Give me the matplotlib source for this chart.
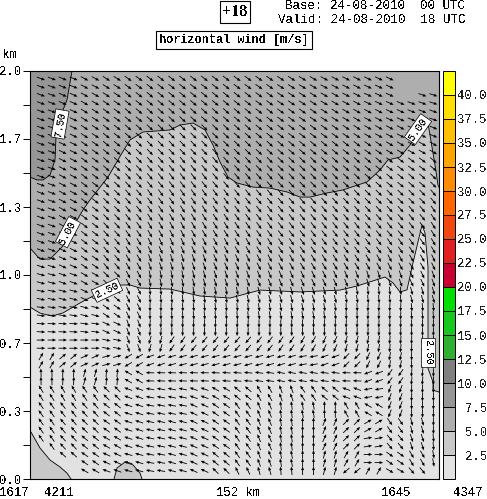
#%%
import matplotlib
matplotlib.use('Agg')
import matplotlib.pyplot as plt
import matplotlib as mpl
import numpy as np

plt.rcParams['font.family'] = ['Liberation Mono', 'DejaVu Sans Mono']
plt.rcParams['text.antialiased'] = False

#%% data: contour lines along the section (x = grid position, y = height in km)
line_75_x = [42, 37, 33, 26, 25, 20, 13, 7, 0]
line_75_h = [2.0, 1.858, 1.809, 1.676, 1.564, 1.490, 1.466, 1.466, 1.480]

line_50_x = [0, 10, 20, 32, 43, 53, 60, 78, 92, 100, 113, 140, 150, 163, 175, 183, 190, 198, 207,
             223, 240, 257, 270, 280, 297, 313, 337, 350, 358, 370, 380, 388, 397, 400, 405, 408, 409]
line_50_h = [1.132, 1.078, 1.078, 1.137, 1.235, 1.319, 1.368, 1.480, 1.598, 1.662, 1.701, 1.711, 1.735,
             1.745, 1.711, 1.637, 1.554, 1.480, 1.451, 1.431, 1.426, 1.407, 1.382, 1.382, 1.402, 1.417,
             1.456, 1.515, 1.564, 1.578, 1.637, 1.711, 1.770, 1.686, 1.539, 1.441, 1.43]

line_25_x = [0, 10, 22, 33, 50, 65, 90, 100, 110, 140, 170, 200, 230, 270, 310, 327, 343, 355, 363,
             370, 377, 383, 392, 395, 398, 398, 398, 395, 403, 403, 409]
line_25_h = [0.843, 0.813, 0.799, 0.814, 0.863, 0.902, 0.951, 0.951, 0.936, 0.931, 0.897, 0.887, 0.926,
             0.917, 0.926, 0.946, 0.971, 0.990, 0.961, 0.917, 0.927, 1.059, 1.245, 1.206, 1.039, 0.794,
             0.681, 0.583, 0.475, 0.436, 0.426]

corner_x = [1, 10, 20, 30, 37, 41]
corner_h = [0.230, 0.152, 0.093, 0.059, 0.029, 0.0]
hill_x = [84, 87, 95, 103, 110, 112]
hill_h = [0.0, 0.054, 0.083, 0.069, 0.029, 0.0]

# wind direction in degrees, one row per two arrow rows, top of the section first
wind_dir = [
    [-20, -22, -28, -32, -36, -38, -38, -38, -38, -36, -35, -33, -31, -28, -27, -25, -25, -20, -18],
    [-20, -24, -30, -34, -38, -40, -40, -40, -40, -38, -36, -34, -33, -30, -28, -25, -24, -20, -18],
    [-20, -25, -32, -36, -40, -42, -43, -42, -42, -40, -38, -36, -35, -32, -30, -28, -25, -22, -20],
    [-20, -26, -34, -38, -42, -44, -45, -45, -44, -43, -40, -38, -38, -36, -34, -30, -28, -24, -22],
    [-20, -26, -35, -40, -44, -46, -47, -47, -46, -45, -43, -41, -41, -40, -38, -35, -32, -30, -30],
    [-20, -26, -36, -42, -46, -48, -50, -50, -49, -48, -46, -44, -44, -43, -42, -40, -37, -36, -40],
    [-20, -28, -38, -44, -48, -50, -52, -52, -50, -50, -48, -47, -46, -46, -44, -42, -40, -42, -45],
    [-20, -28, -38, -45, -50, -54, -55, -55, -54, -52, -50, -49, -48, -48, -47, -45, -45, -46, -50],
    [-20, -28, -38, -46, -52, -56, -58, -58, -56, -54, -52, -50, -50, -50, -50, -48, -48, -50, -55],
    [-20, -28, -38, -48, -55, -60, -62, -60, -58, -56, -54, -52, -52, -52, -52, -50, -50, -52, -58],
    [-20, -26, -38, -50, -58, -65, -66, -64, -62, -60, -58, -56, -54, -54, -54, -53, -55, -55, -60],
    [-18, -24, -35, -50, -60, -70, -72, -70, -66, -65, -62, -60, -58, -58, -58, -60, -62, -60, -65],
    [-15, -20, -30, -45, -62, -78, -78, -75, -72, -70, -68, -66, -65, -65, -68, -72, -70, -65, -70],
    [-12, -15, -25, -40, -65, -85, -85, -82, -80, -78, -75, -74, -72, -75, -80, -85, -85, -75, -75],
    [-8, -10, -15, -35, -65, -90, -88, -85, -85, -85, -82, -80, -80, -82, -88, -92, -92, -85, -85],
    [-3, -3, -8, -25, -70, -95, -92, -92, -92, -92, -90, -90, -88, -90, -92, -92, -92, -90, -90],
    [0, 0, 0, -12, -70, -105, -125, -130, -130, -130, -128, -125, -120, -115, -105, -100, -95, -92, -90],
    [60, 40, 25, 15, -150, -160, -165, -165, -165, -165, -165, -165, -170, -160, -135, -115, -100, -90, -90],
    [92, 88, 75, 85, 150, 178, 178, 178, 176, 175, 172, 170, 170, 172, 178, -160, -125, -95, -90],
    [122, 120, 125, 135, 160, 170, 168, 160, 150, 140, 120, 110, 125, 140, 160, -170, -110, -92, -90],
    [125, 128, 132, 142, 162, 170, 170, 155, 145, 125, 112, 98, 100, 90, 120, 150, -110, -90, -90],
    [125, 130, 135, 145, 162, 168, 165, 155, 145, 125, 112, 98, 90, 68, 45, 30, -55, -75, -90],
    [125, 132, 140, 150, 162, 168, 165, 155, 145, 125, 112, 98, 90, 65, 45, 10, -50, -72, -85],
    [130, 138, 145, 155, 165, 170, 165, 155, 140, 125, 110, 100, 90, 75, 60, 0, -35, -60, -80],
    [130, 140, 150, 160, 165, 170, 165, 155, 135, 115, 105, 95, 90, 75, -140, 60, -30, -50, -70],
]

# colour scale
cbar_levels = [0, 2.5, 5, 7.5, 10, 12.5, 15, 17.5, 20, 22.5, 25, 27.5, 30, 32.5, 35, 37.5, 40, 42.5]
cbar_colors = ['#e2e2e2', '#c8c8c8', '#aeaeae', '#969696', '#808080', '#30b030', '#18c820', '#00e000',
               '#c80032', '#e02020', '#f04810', '#ff6600', '#ff8c00', '#ffa500', '#ffc000', '#ffdf00', '#ffff00']
cbar_ticks = [2.5, 5, 7.5, 10, 12.5, 15, 17.5, 20, 22.5, 25, 27.5, 30, 32.5, 35, 37.5, 40]

height_ticks = [0, 1/6, 2/6, 3/6, 4/6, 5/6, 1, 7/6, 8/6, 9/6, 10/6, 11/6, 2]
height_labels = ['0.0', '', '0.3', '', '0.7', '', '1.0', '', '1.3', '', '1.7', '', '2.0']

#%%
W, H = 487, 499

def fig_text(x, y, s, **kw):
    # x, y in pixels from top left
    return fig.text(x / W, 1 - y / H, s, **kw)

fig = plt.figure(figsize=(W / 100, H / 100), dpi=100)
ax = fig.add_axes([30 / W, 1 - 479 / H, 409 / W, 408 / H])
ax.set_xlim(0, 409)
ax.set_ylim(0, 2)
ax.set_facecolor(cbar_colors[0])

#%% shaded wind speed layers
ax.fill(line_25_x + [409, 0], line_25_h + [2, 2], color=cbar_colors[1], lw=0, zorder=1)
ax.fill(line_50_x + [409, 0], line_50_h + [2, 2], color=cbar_colors[2], lw=0, zorder=2)
ax.fill(line_75_x + [0], line_75_h + [2], color=cbar_colors[3], lw=0, zorder=3)
ax.fill([0] + corner_x, [0] + corner_h, color=cbar_colors[1], lw=0, zorder=2)
ax.fill(hill_x, hill_h, color=cbar_colors[1], lw=0, zorder=2)

for xs, hs in [(line_25_x, line_25_h), (line_50_x, line_50_h), (line_75_x, line_75_h),
               (corner_x, corner_h), (hill_x, hill_h)]:
    ax.plot(xs, hs, color='black', lw=0.6, zorder=4)

#%% wind arrows
angles = np.repeat(np.repeat(np.array(wind_dir, dtype=float), 2, axis=0), 2, axis=1)[:49, :37]
angles[:2, 33:] = np.nan
angles[2, 33:35] = np.nan
angles[48, :4] = np.nan
angles[47, :4] = np.nan
angles[46, :2] = np.nan
angles[45, 0] = np.nan
angles[48, 36] = np.nan

col_x = 11 + 10.9 * np.arange(37)
row_h = (479 - (78.6 + 8.17 * np.arange(49))) / 204
X, Y = np.meshgrid(col_x, row_h)
arrow_len = 8.5
U = arrow_len * np.cos(np.radians(angles))
V = arrow_len * np.sin(np.radians(angles))
ax.quiver(X, Y, U, V, angles='uv', units='dots', scale_units='dots', scale=1, width=0.85, pivot='mid',
          headwidth=3.6, headlength=4.2, headaxislength=4.2, color='black', zorder=5, linewidth=0)

#%% contour labels
box = dict(facecolor='white', edgecolor='black', lw=0.5, pad=1.2)
for x, h, s, rot in [(30, 1.74, '7.50', 80), (38, 1.21, '5.00', 62), (77, 0.925, '2.50', 25),
                     (388, 1.715, '5.00', 55), (398, 0.62, '2.50', -90)]:
    ax.text(x, h, s, fontsize=7.6, rotation=rot, rotation_mode='anchor', ha='center', va='center',
            bbox=box, zorder=6)

#%% axes
ax.set_yticks(height_ticks)
ax.set_yticklabels(height_labels, fontsize=8.8)
ax.set_xticks([])
ax.tick_params(axis='y', length=5, width=0.7, pad=1)
for s in ax.spines.values():
    s.set_linewidth(0.8)
    s.set_zorder(7)

#%% colour bar
cax = fig.add_axes([443 / W, 1 - 479 / H, 12 / W, 408 / H])
cmap = mpl.colors.ListedColormap(cbar_colors)
norm = mpl.colors.BoundaryNorm(cbar_levels, cmap.N)
cb = mpl.colorbar.ColorbarBase(cax, cmap=cmap, norm=norm, ticks=cbar_ticks, drawedges=True,
                               spacing='uniform')
cb.dividers.set_linewidth(0.7)
cb.outline.set_linewidth(0.7)
cax.minorticks_off()
cax.set_yticklabels([f'{v:.1f}' for v in cbar_ticks], fontsize=8.8, ha='right', color='#222222')
cax.tick_params(axis='y', length=0, pad=23)

#%% header and bottom text
fig_text(235, 12, '+18', fontsize=11.5, weight='bold', family='Liberation Serif', ha='center', va='center',
         bbox=dict(facecolor='white', edgecolor='black', lw=0.8, pad=2))
fig_text(465, 6, 'Base: 24-08-2010  00 UTC', fontsize=9, ha='right', va='center')
fig_text(465, 20, 'Valid: 24-08-2010  18 UTC', fontsize=9, ha='right', va='center')
fig_text(234, 40, 'horizontal wind [m/s]', fontsize=8.6, weight='bold', ha='center', va='center',
         bbox=dict(facecolor='white', edgecolor='black', lw=0.8, pad=2.2))
fig_text(3, 55, 'km', fontsize=9, va='center')

for x, s in [(14, '1617'), (59, '4211'), (238, '152 km'), (396, '1645'), (468, '4347')]:
    fig_text(x, 493, s, fontsize=8.8, ha='center', va='center')

fig.savefig('out.png', dpi=100)
